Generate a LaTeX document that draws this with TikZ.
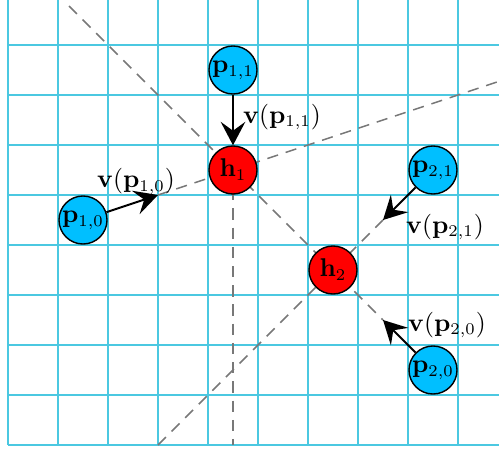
\documentclass[tikz,border=0pt]{standalone}
\usetikzlibrary{arrows.meta}
\definecolor{gridc}{RGB}{75,200,225}
\definecolor{pblue}{RGB}{0,191,255}
\definecolor{hred}{RGB}{255,0,0}
\definecolor{dashc}{RGB}{120,120,120}
\tikzset{
  pt/.style={circle,draw=black,line width=0.6pt,fill=pblue,minimum size=20.5pt,inner sep=0pt,font=\fontsize{10.5}{12}\selectfont},
  hp/.style={circle,draw=black,line width=0.6pt,fill=hred,minimum size=20.5pt,inner sep=0pt,font=\fontsize{10.5}{12}\selectfont},
  guide/.style={draw=dashc,line width=0.65pt,dash pattern=on 4.8pt off 3.4pt},
  vec/.style={draw=black,line width=0.85pt,-{Stealth[length=10pt,width=10.5pt,inset=3.8pt]}},
  lab/.style={inner sep=0pt,font=\fontsize{10.5}{12}\selectfont}
}
\begin{document}
\begin{tikzpicture}[x=0.75cm,y=0.75cm]
\useasboundingbox (-0.16,-0.1) rectangle (9.82,8.9);
\clip (-0.16,-0.1) rectangle (9.82,8.9);
% grid
\foreach \i in {0,...,9} \draw[gridc,line width=0.6pt] (\i,0) -- (\i,9);
\foreach \j in {0,...,8} \draw[gridc,line width=0.6pt] (0,\j) -- (10,\j);
% points
\coordinate (a10) at (3,5);
\coordinate (a21) at (7.5,4.5);
\coordinate (a20) at (7.5,2.5);
\coordinate (t1) at (1.22,8.78);
\coordinate (t2) at (10.5,7.5);
\coordinate (b1) at (4.5,0);
\coordinate (b2) at (3,0);
% guide lines
\path[guide] (t1) -- (a20);
\path[guide] (a10) -- (t2);
\path[guide] (4.5,5.5) -- (b1);
\path[guide] (b2) -- (a21);
% nodes
\node[hp] (h1) at (4.5,5.5) {$\mathbf{h}_1$};
\node[hp] (h2) at (6.5,3.5) {$\mathbf{h}_2$};
\node[pt] (p11) at (4.5,7.5) {$\mathbf{p}_{1,1}$};
\node[pt] (p10) at (1.5,4.5) {$\mathbf{p}_{1,0}$};
\node[pt] (p21) at (8.5,5.5) {$\mathbf{p}_{2,1}$};
\node[pt] (p20) at (8.5,1.5) {$\mathbf{p}_{2,0}$};
% vectors
\path[vec] (p11) -- (h1);
\path[vec] (p10) -- (a10);
\path[vec] (p21) -- (a21);
\path[vec] (p20) -- (a20);
% labels
\node[lab] (l11) at (5.48,6.56) {$\mathbf{v}(\mathbf{p}_{1,1})$};
\node[lab] (l10) at (2.56,5.27) {$\mathbf{v}(\mathbf{p}_{1,0})$};
\node[lab] (l21) at (8.74,4.36) {$\mathbf{v}(\mathbf{p}_{2,1})$};
\node[lab] (l20) at (8.78,2.4) {$\mathbf{v}(\mathbf{p}_{2,0})$};
\end{tikzpicture}
\end{document}
